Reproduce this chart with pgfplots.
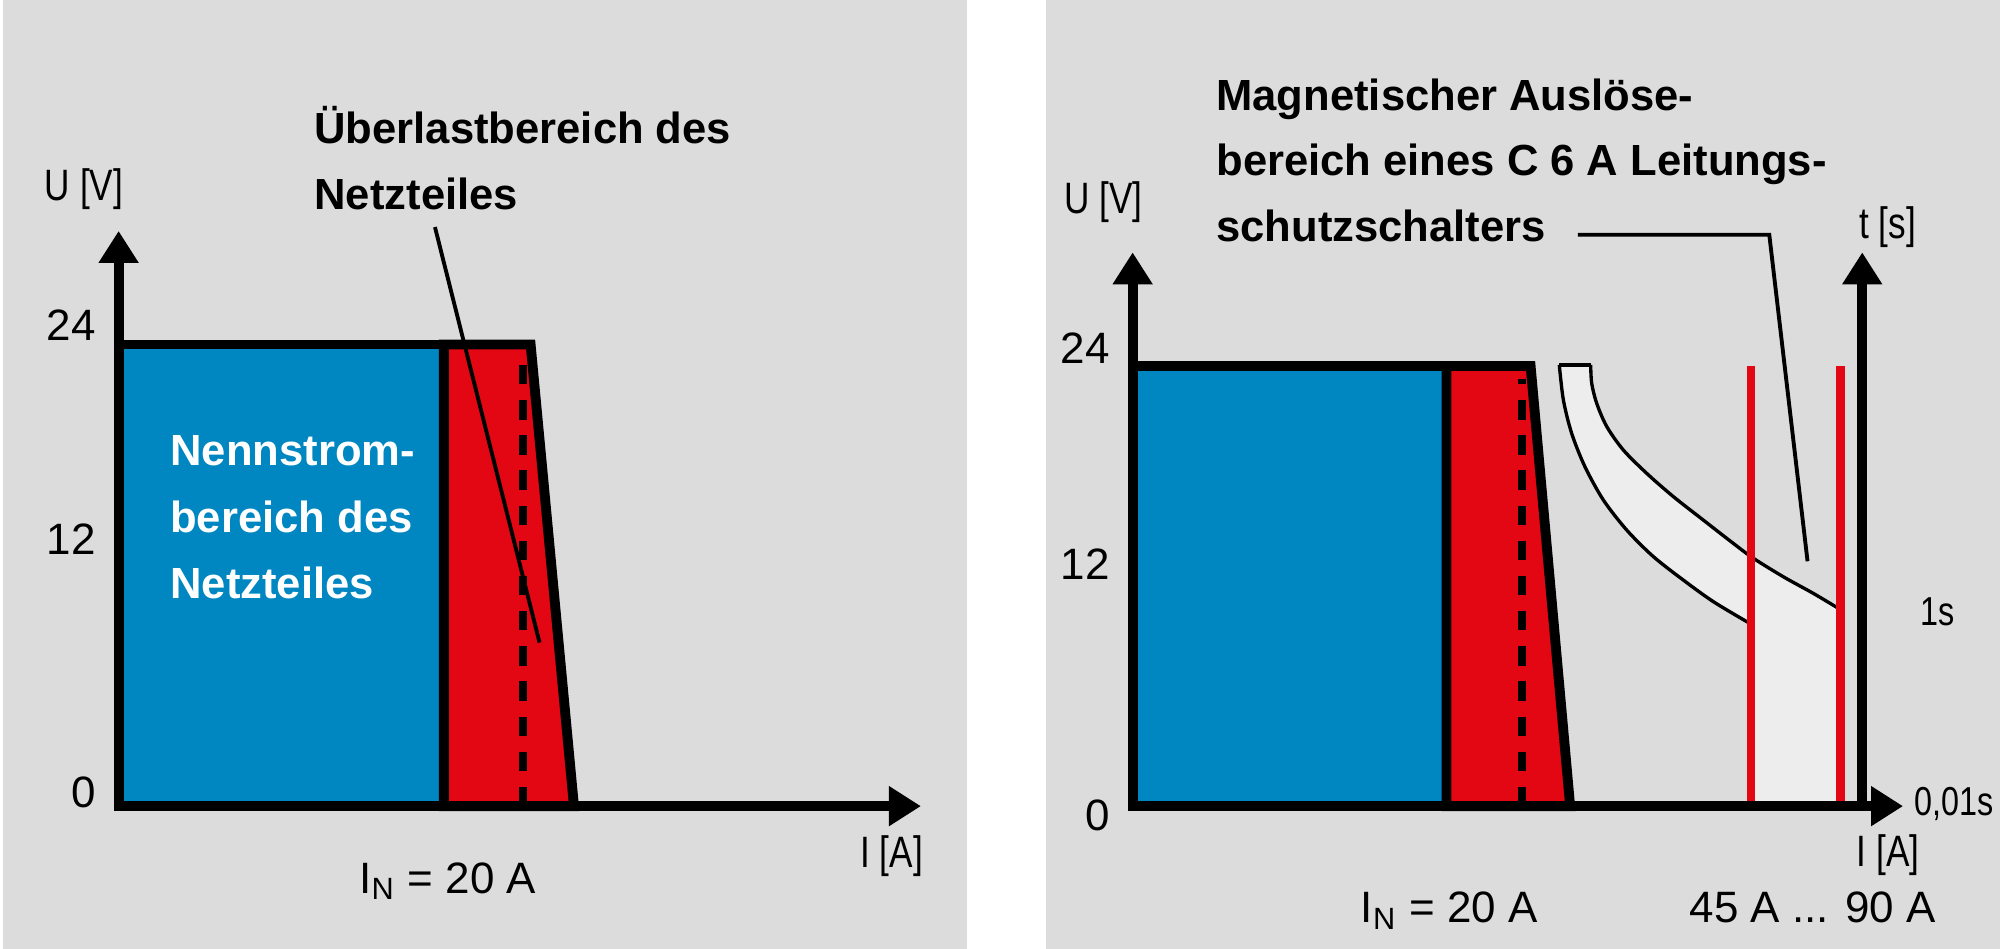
\documentclass[border=0pt]{standalone}
\usepackage{fontspec}
\setmainfont{Liberation Sans}
\newfontfamily\cond[FakeStretch=0.8]{Liberation Sans}
\usepackage{pgfplots}
\pgfplotsset{compat=1.18}
\usetikzlibrary{arrows.meta}
\definecolor{bg}{RGB}{220,220,220}
\definecolor{nblue}{RGB}{0,134,193}
\definecolor{nred}{RGB}{227,6,19}
\definecolor{band}{RGB}{237,237,237}
\newcommand\bft{\fontsize{12.4}{18.7}\selectfont\bfseries}
\newcommand\rgt{\fontsize{12.5}{15}\selectfont}
\newcommand\cdt{\cond\fontsize{12.5}{15}\selectfont}
\newcommand\smt{\cond\fontsize{11.5}{13}\selectfont}
\tikzset{axarrow/.style={line width=2.8pt, -{Triangle[length=0.32cm, width=0.38cm]}},
  frame/.style={draw=black, line width=2.8pt, line join=miter}}
\begin{document}
\begin{tikzpicture}
\begin{scope}[x=0.012755cm, y=-0.012755cm]
\fill[white] (0,0) rectangle (1568,744);
\fill[bg] (2,0) rectangle (758,744);
\fill[bg] (820,0) rectangle (1568,744);
\end{scope}

% ---------------- left panel ----------------
\begin{axis}[
  at={(1.1862cm,-8.0612cm)}, anchor=south west,
  scale only axis, width=8.023cm, height=5.727cm,
  xmin=0, xmax=629, ymin=0, ymax=29.77,
  axis lines=left, axis line style={draw=none},
  xtick=\empty, ytick={0.7,13.9,25}, yticklabels={0,12,24},
  major tick length=0pt,
  yticklabel style={font=\rgt, xshift=-3pt},
  clip=false,
]
\addplot[fill=nblue, frame] coordinates {(0,24) (255,24)} \closedcycle;
\addplot[fill=nred, frame] coordinates {(255,24) (323,24) (357,0)} \closedcycle;
\addplot[black, line width=2.2pt, dash pattern=on 5.5pt off 4.5pt] coordinates {(317,0) (317,23.3)};
\draw[line width=1.1pt] (axis cs:248,30.1) -- (axis cs:330,8.5);
\draw[axarrow] (axis cs:0,0) -- (axis cs:0,29.9);
\draw[axarrow] (axis cs:0,0) -- (axis cs:629,0);
\end{axis}

% ---------------- right panel ----------------
\begin{axis}[
  at={(11.3264cm,-8.0612cm)}, anchor=south west,
  scale only axis, width=7.704cm, height=5.510cm,
  xmin=0, xmax=604, ymin=0, ymax=30.05,
  axis lines=left, axis line style={draw=none},
  xtick=\empty, ytick={13.2,25}, yticklabels={12,24},
  major tick length=0pt,
  yticklabel style={font=\rgt, xshift=-3pt},
  clip=false,
]
\addplot[fill=nblue, frame] coordinates {(0,24) (246,24)} \closedcycle;
\addplot[fill=nred, frame] coordinates {(246,24) (312,24) (343,0)} \closedcycle;
\addplot[black, line width=2.2pt, dash pattern=on 5.5pt off 4.5pt] coordinates {(305,0) (305,23.3)};
% tripping band of the circuit breaker
\addplot[fill=band, draw=none] coordinates {
 (334.5,24.06) (337.7,22.15) (344.2,20.33) (354.6,18.51) (369.0,16.70) (387.3,15.06) (408.2,13.61) (431.7,12.33) (455.3,11.15) (483,10.0)
 (483,0) (553,0) (553,10.8)
 (533.7,11.60) (510.1,12.51) (486.6,13.52) (470.9,14.33) (447.4,15.60) (423.9,16.88) (403.0,18.15) (384.7,19.42) (371.7,20.70) (363.8,21.97) (359.9,23.06) (359.1,24.06)
} -- cycle;
\addplot[black, line width=0.95pt, smooth, tension=0.5] coordinates {
 (334.5,24.06) (337.7,22.15) (344.2,20.33) (354.6,18.51) (369.0,16.70) (387.3,15.06) (408.2,13.61) (431.7,12.33) (455.3,11.15) (483,10.0)};
\addplot[black, line width=0.95pt, smooth, tension=0.5] coordinates {
 (359.1,24.06) (359.9,23.06) (363.8,21.97) (371.7,20.70) (384.7,19.42) (403.0,18.15) (423.9,16.88) (447.4,15.60) (470.9,14.33) (486.6,13.52) (510.1,12.51) (533.7,11.60) (553,10.8)};
\addplot[black, line width=0.95pt] coordinates {(334.5,24.06) (359.1,24.06)};
\addplot[nred, line width=2.4pt] coordinates {(485,0) (485,24)};
\addplot[nred, line width=2.4pt] coordinates {(555,0) (555,24)};
\draw[axarrow] (axis cs:0,0) -- (axis cs:0,30.2);
\draw[axarrow] (axis cs:0,0) -- (axis cs:604,0);
\draw[axarrow] (axis cs:572,0) -- (axis cs:572,30.2);
\node[anchor=east, font=\rgt, xshift=-3pt] at (axis cs:0,-0.5) {0};
\end{axis}

\begin{scope}[x=0.012755cm, y=-0.012755cm, every node/.style={inner sep=0pt}]
\node[anchor=mid west, font=\bft] at (246,105) {Überlastbereich des};
\node[anchor=mid west, font=\bft] at (246,157) {Netzteiles};
\node[anchor=mid west, font=\bft, text=white] at (133,358) {Nennstrom-};
\node[anchor=mid west, font=\bft, text=white] at (133,410) {bereich des};
\node[anchor=mid west, font=\bft, text=white] at (133,462) {Netzteiles};
\node[anchor=mid east, font=\cdt] at (97,150) {U [V]};
\node[anchor=mid east, font=\cdt] at (724,673) {I [A]};
\node[anchor=mid, font=\rgt] at (351,693) {I\textsubscript{N} = 20 A};

\draw[line width=1.1pt] (1237,184) -- (1387,184) -- (1417,440);
\node[anchor=mid west, font=\bft] at (953,79) {Magnetischer Auslöse-};
\node[anchor=mid west, font=\bft] at (953,130) {bereich eines C 6 A Leitungs-};
\node[anchor=mid west, font=\bft] at (953,182) {schutzschalters};
\node[anchor=mid east, font=\cdt] at (896,160) {U [V]};
\node[anchor=mid west, font=\cdt] at (1457,180) {t [s]};
\node[anchor=mid west, font=\smt] at (1505,483) {1s};
\node[anchor=mid west, font=\smt] at (1500,632) {0,01s};
\node[anchor=mid west, font=\cdt] at (1455,672) {I [A]};
\node[anchor=mid, font=\rgt] at (1136,716) {I\textsubscript{N} = 20 A};
\node[anchor=mid, font=\rgt] at (1421,716) {45 A ... 90 A};
\end{scope}

\pgfresetboundingbox
\useasboundingbox (0,0) rectangle (20cm,-9.4897cm);
\end{tikzpicture}
\end{document}
